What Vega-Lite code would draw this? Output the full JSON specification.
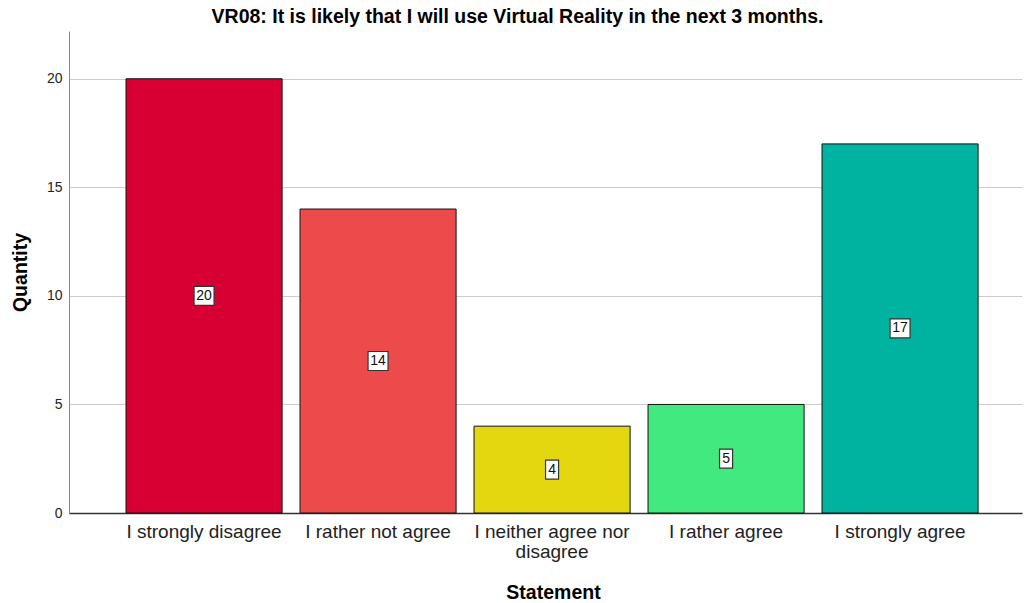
{
  "$schema": "https://vega.github.io/schema/vega-lite/v6.json",
  "width": 953,
  "height": 482,
  "autosize": {"type": "none"},
  "padding": {"left": 69, "top": 31, "right": 2, "bottom": 90},
  "background": "white",
  "title": {
    "text": "VR08: It is likely that I will use Virtual Reality in the next 3 months.",
    "font": "Liberation Sans",
    "fontSize": 19.5,
    "fontWeight": "bold",
    "color": "#000000",
    "anchor": "middle",
    "dx": -28,
    "offset": 4
  },
  "config": {
    "view": {"stroke": null},
    "font": "Liberation Sans"
  },
  "data": {
    "values": [
      {"Statement": "I strongly disagree", "Quantity": 20},
      {"Statement": "I rather not agree", "Quantity": 14},
      {"Statement": "I neither agree nor disagree", "Quantity": 4},
      {"Statement": "I rather agree", "Quantity": 5},
      {"Statement": "I strongly agree", "Quantity": 17}
    ]
  },
  "encoding": {
    "x": {
      "field": "Statement",
      "type": "nominal",
      "sort": null,
      "scale": {"paddingInner": 0.103, "paddingOuter": 0.29, "align": 0.565},
      "axis": {
        "title": "Statement",
        "titleFontSize": 19.5,
        "titleFontWeight": "bold",
        "titleColor": "#000000",
        "titleBaseline": "middle",
        "titleX": 484,
        "titleY": 79,
        "labelAngle": 0,
        "labelFontSize": 19,
        "labelColor": "#222222",
        "labelPadding": 9,
        "labelLineHeight": 20,
        "labelExpr": "datum.label == 'I neither agree nor disagree' ? ['I neither agree nor', 'disagree'] : datum.label",
        "ticks": false,
        "domainColor": "#333333",
        "domainWidth": 1.5,
        "grid": false
      }
    }
  },
  "layer": [
    {
      "mark": {"type": "bar", "stroke": "#111111", "strokeWidth": 1},
      "encoding": {
        "y": {
          "field": "Quantity",
          "type": "quantitative",
          "scale": {"domain": [0, 22.2], "nice": false},
          "axis": {
            "title": "Quantity",
            "titleFontSize": 19.5,
            "titleFontWeight": "bold",
            "titleColor": "#000000",
            "titleX": -49,
            "titleY": 241,
            "titleBaseline": "middle",
            "values": [0, 5, 10, 15, 20],
            "labelFontSize": 14,
            "labelColor": "#222222",
            "labelPadding": 7,
            "ticks": false,
            "domainColor": "#888888",
            "gridColor": "#cccccc",
            "gridWidth": 1.2
          }
        },
        "color": {
          "field": "Statement",
          "type": "nominal",
          "sort": null,
          "legend": null,
          "scale": {
            "domain": ["I strongly disagree", "I rather not agree", "I neither agree nor disagree", "I rather agree", "I strongly agree"],
            "range": ["#D70032", "#ED4B4B", "#E3D70F", "#42E97E", "#00B3A0"]
          }
        }
      }
    },
    {
      "transform": [{"calculate": "datum.Quantity / 2", "as": "mid"}],
      "mark": {"type": "point", "filled": true, "fill": "white", "stroke": "#333333", "strokeWidth": 1.2, "opacity": 1, "size": 400},
      "encoding": {
        "y": {"field": "mid", "type": "quantitative"},
        "shape": {
          "condition": {"test": "datum.Quantity >= 10", "value": "M-1,-0.95H1V0.95H-1Z"},
          "value": "M-0.65,-0.95H0.65V0.95H-0.65Z"
        }
      }
    },
    {
      "transform": [{"calculate": "datum.Quantity / 2", "as": "mid"}],
      "mark": {"type": "text", "fontSize": 14, "color": "#111111", "baseline": "middle", "align": "center"},
      "encoding": {
        "y": {"field": "mid", "type": "quantitative"},
        "text": {"field": "Quantity", "type": "quantitative"}
      }
    }
  ]
}
